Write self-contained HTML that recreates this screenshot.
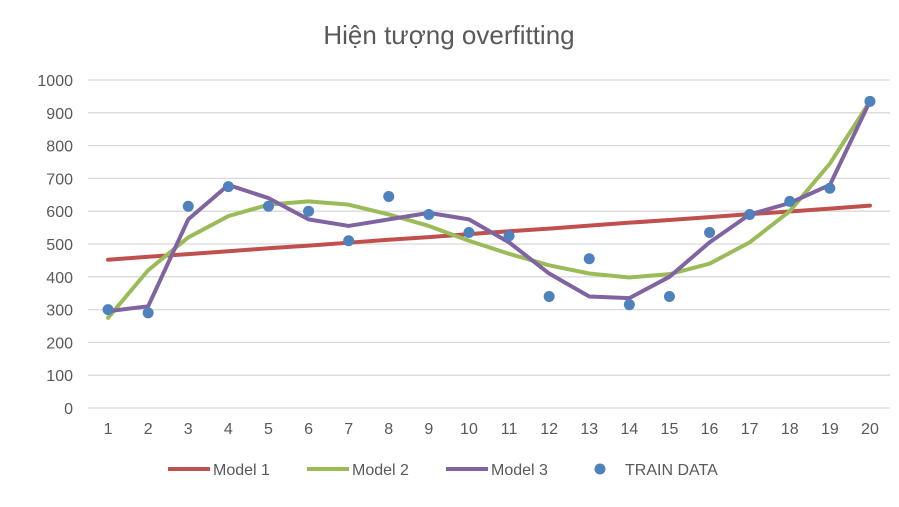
<!DOCTYPE html>
<html><head><meta charset="utf-8"><style>
body{margin:0;background:#fff;font-family:"Liberation Sans","Noto Sans CJK SC",sans-serif}
</style></head><body>
<svg id="c" width="899" height="502" xmlns="http://www.w3.org/2000/svg"></svg>
<script>
const categories=[1,2,3,4,5,6,7,8,9,10,11,12,13,14,15,16,17,18,19,20];
const model1=[452,461,469,478,487,495,504,513,521,530,539,547,556,565,573,582,591,599,608,617];
const model2=[275,420,520,585,620,630,620,590,555,510,470,435,410,398,408,440,505,600,745,935];
const model3=[295,310,575,680,640,575,555,575,595,575,505,410,340,335,400,505,590,625,680,935];
const trainData=[300,290,615,675,615,600,510,645,590,535,525,340,455,315,340,535,590,630,670,935];
const yTicks=[0,100,200,300,400,500,600,700,800,900,1000];
const NS="http://www.w3.org/2000/svg";
const svg=document.getElementById('c');
const L=88,R=890,T=80,B=408;
const x=i=>L+(R-L)/categories.length*(i+0.5);
const y=v=>B-(B-T)*v/1000;
function mk(t,a,p){const e=document.createElementNS(NS,t);for(const k in a)e.setAttribute(k,a[k]);(p||svg).appendChild(e);return e;}
const title=mk('text',{x:449,y:44,'text-anchor':'middle','font-size':26,fill:'#595959'});
title.textContent='Hiện tượng overfitting';


yTicks.forEach(v=>{
 const g=mk('line',{x1:L,x2:R,y1:y(v),y2:y(v),stroke:'#d9d9d9','stroke-width':1.3});
 
 
 const t=mk('text',{x:73,y:y(v)+6,'text-anchor':'end','font-size':16,fill:'#595959'});
 t.textContent=v;
 
 
});
categories.forEach((c,i)=>{
 const t=mk('text',{x:x(i),y:434,'text-anchor':'middle','font-size':16,fill:'#595959'});
 t.textContent=c;
 
 
});
function line(d,col,name){
 const p=mk('polyline',{points:d.map((v,i)=>x(i)+','+y(v)).join(' '),fill:'none',stroke:col,'stroke-width':4,'stroke-linejoin':'round','stroke-linecap':'round'});
 
 
}
line(model1,'#c0504d','model-1-line');
line(model2,'#9bbb59','model-2-line');
line(model3,'#8064a2','model-3-line');
trainData.forEach((v,i)=>{
 const c=mk('circle',{cx:x(i),cy:y(v),r:5.5,fill:'#4f81bd'});
 
 
});
const leg=[['Model 1','#c0504d',168],['Model 2','#9bbb59',307],['Model 3','#8064a2',446]];
leg.forEach(([n,c,lx])=>{
 const g=mk('g',{});
 
 
 mk('line',{x1:lx,x2:lx+42,y1:469,y2:469,stroke:c,'stroke-width':4},g);
 const t=mk('text',{x:lx+45,y:475,'font-size':16,fill:'#595959'},g);t.textContent=n;
});
const g=mk('g',{});


mk('circle',{cx:600,cy:469,r:5.5,fill:'#4f81bd'},g);
const tt=mk('text',{x:625,y:475,'font-size':16,fill:'#595959'},g);tt.textContent='TRAIN DATA';
</script>
</body></html>
